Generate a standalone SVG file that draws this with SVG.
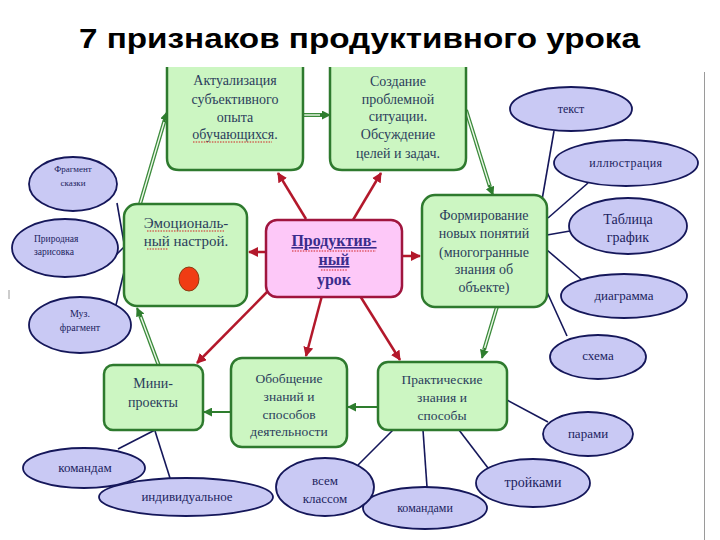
<svg xmlns="http://www.w3.org/2000/svg" width="720" height="540" viewBox="0 0 720 540">
<defs>
<marker id="ra" markerUnits="userSpaceOnUse" markerWidth="10" markerHeight="10" viewBox="0 0 10 10" refX="9" refY="5" orient="auto"><path d="M0,0 L10,5 L0,10 z" fill="#b3182b"/></marker>
<marker id="ga" markerUnits="userSpaceOnUse" markerWidth="9" markerHeight="9" viewBox="0 0 10 10" refX="9" refY="5" orient="auto"><path d="M0,0 L10,5 L0,10 z" fill="#2e7d2e"/></marker>
<style>
.gb{fill:#ccf6c2;stroke:#2e7a2e;stroke-width:2.5}
.el{fill:#c9c9f4;stroke:#15175a;stroke-width:1.8}
.bt{font-family:'Liberation Serif',serif;fill:#2b3d5c;text-anchor:middle}
.et{font-family:'Liberation Serif',serif;fill:#1c1e5e;text-anchor:middle}
.ct{font-family:'Liberation Serif',serif;font-weight:bold;fill:#3a2d8c;text-anchor:middle}
.red{stroke:#b3182b;stroke-width:2.5;fill:none;marker-end:url(#ra)}
.gs{stroke:#2e7d2e;stroke-width:2;fill:none;marker-end:url(#ga)}
.gd{stroke:#3a8a3a;stroke-width:4;fill:none}
.gdi{stroke:#eef8ea;stroke-width:1.4;fill:none}
.nl{stroke:#15175a;stroke-width:1.6;fill:none}
.sq{stroke:#d02020;stroke-width:1;stroke-dasharray:1.5 1.2;fill:none}
</style>
</defs>
<rect width="720" height="540" fill="#ffffff"/>
<line x1="704.5" y1="72" x2="704.5" y2="540" stroke="#9a9a9a" stroke-width="1"/>
<line x1="9" y1="290" x2="9" y2="299" stroke="#9a9a9a" stroke-width="1"/>
<text x="359.5" y="48" font-family="Liberation Sans, Arial, sans-serif" font-size="28" font-weight="bold" fill="#000" text-anchor="middle" textLength="561" lengthAdjust="spacingAndGlyphs">7 признаков продуктивного урока</text>

<g id="connectors">
<line class="red" x1="306" y1="219" x2="278" y2="173"/>
<line class="red" x1="353" y1="220" x2="381" y2="173"/>
<line class="red" x1="266" y1="252" x2="249" y2="252"/>
<line class="red" x1="402" y1="256" x2="420" y2="256"/>
<line class="red" x1="267" y1="292" x2="197" y2="363"/>
<line class="red" x1="324" y1="288" x2="306" y2="356"/>
<line class="red" x1="357" y1="291" x2="400" y2="360"/>
<g>
<path class="gd" d="M303,115 H324"/><path class="gdi" d="M303,115 H324"/>
<line class="gs" x1="320" y1="115" x2="330" y2="115"/>
</g>
<g>
<path class="gd" d="M140,204 L165,119"/><path class="gdi" d="M140,204 L165,119"/>
<line class="gs" x1="164" y1="122" x2="167" y2="112"/>
</g>
<g>
<path class="gd" d="M466,110 L490,187"/><path class="gdi" d="M466,110 L490,187"/>
<line class="gs" x1="489" y1="185" x2="493" y2="195"/>
</g>
<g>
<path class="gd" d="M499,300 L484,350"/><path class="gdi" d="M499,300 L484,350"/>
<line class="gs" x1="485" y1="348" x2="482" y2="358"/>
</g>
<g>
<path class="gd" d="M159,366 L140,315"/><path class="gdi" d="M159,366 L140,315"/>
<line class="gs" x1="141" y1="317" x2="137" y2="308"/>
</g>
<line class="gs" x1="231" y1="412" x2="204" y2="412"/>
<line class="gs" x1="378" y1="407" x2="348" y2="407"/>
<line class="nl" x1="117" y1="203" x2="124" y2="243"/>
<line class="nl" x1="115" y1="256" x2="124" y2="247"/>
<line class="nl" x1="116" y1="305" x2="124" y2="272"/>
<line class="nl" x1="554" y1="131" x2="542" y2="200"/>
<line class="nl" x1="588" y1="183" x2="548" y2="218"/>
<line class="nl" x1="570" y1="231" x2="547" y2="235"/>
<line class="nl" x1="547" y1="250" x2="582" y2="280"/>
<line class="nl" x1="547" y1="292" x2="567" y2="336"/>
<line class="nl" x1="155" y1="430" x2="118" y2="449"/>
<line class="nl" x1="155" y1="431" x2="170" y2="478"/>
<line class="nl" x1="393" y1="430" x2="358" y2="465"/>
<line class="nl" x1="423" y1="430" x2="427" y2="487"/>
<line class="nl" x1="459" y1="430" x2="488" y2="468"/>
<line class="nl" x1="507" y1="400" x2="548" y2="422"/>
</g>

<g id="box-actual">
<path class="gb" d="M167,67 V158 Q167,170 179,170 H291 Q303,170 303,158 V67"/>
<text class="bt" style="font-size:14px" x="235" y="85">Актуализация</text>
<text class="bt" style="font-size:14px" x="235" y="104">субъективного</text>
<text class="bt" style="font-size:14px" x="235" y="122">опыта</text>
<text class="bt" style="font-size:14px" x="235" y="139">обучающихся.</text>
<path class="sq" d="M193,142 H272"/>
</g>
<g id="box-sozdanie">
<path class="gb" d="M330,67 V158 Q330,170 342,170 H454 Q466,170 466,158 V67"/>
<text class="bt" style="font-size:14px" x="398" y="86">Создание</text>
<text class="bt" style="font-size:14px" x="398" y="104">проблемной</text>
<text class="bt" style="font-size:14px" x="398" y="121">ситуации.</text>
<text class="bt" style="font-size:14px" x="398" y="139">Обсуждение</text>
<text class="bt" style="font-size:14px" x="398" y="158">целей и задач.</text>
</g>
<g id="box-emo">
<rect class="gb" x="124" y="204" width="123" height="102" rx="13"/>
<text class="bt" style="font-size:15px" x="186" y="228">Эмоциональ-</text>
<text class="bt" style="font-size:15px" x="186" y="246">ный настрой.</text>
<path class="sq" d="M147,231 H224"/>
<path class="sq" d="M147,249 H168"/>
<ellipse cx="189" cy="279" rx="10" ry="12" fill="#f03c14" stroke="#8a3a10" stroke-width="1"/>
</g>
<g id="box-center">
<rect x="266" y="220" width="136" height="77" rx="11" fill="#fdc8f8" stroke="#a0153e" stroke-width="2.5"/>
<text class="ct" style="font-size:16px" x="334" y="246" text-decoration="underline">Продуктив-</text>
<text class="ct" style="font-size:16px" x="334" y="265" text-decoration="underline">ный</text>
<text class="ct" style="font-size:16px" x="334" y="285">урок</text>
<path class="sq" d="M292,251 H376"/>
<path class="sq" d="M321,270 H347"/>
</g>
<g id="box-form">
<rect class="gb" x="422" y="195" width="125" height="112" rx="13"/>
<text class="bt" style="font-size:14px" x="484" y="220">Формирование</text>
<text class="bt" style="font-size:14px" x="484" y="238">новых понятий</text>
<text class="bt" style="font-size:14px" x="484" y="257">(многогранные</text>
<text class="bt" style="font-size:14px" x="484" y="274">знания об</text>
<text class="bt" style="font-size:14px" x="484" y="292">объекте)</text>
</g>
<g id="box-mini">
<rect class="gb" x="104" y="365" width="99" height="65" rx="9"/>
<text class="bt" style="font-size:14px" x="153" y="388">Мини-</text>
<text class="bt" style="font-size:14px" x="153" y="407">проекты</text>
</g>
<g id="box-obob">
<rect class="gb" x="231" y="358" width="116" height="89" rx="11"/>
<text class="bt" style="font-size:13.5px" x="289" y="383">Обобщение</text>
<text class="bt" style="font-size:13.5px" x="289" y="401">знаний и</text>
<text class="bt" style="font-size:13.5px" x="289" y="419">способов</text>
<text class="bt" style="font-size:13.5px" x="289" y="436">деятельности</text>
</g>
<g id="box-prakt">
<rect class="gb" x="378" y="362" width="129" height="68" rx="10"/>
<text class="bt" style="font-size:13.5px" x="442" y="384">Практические</text>
<text class="bt" style="font-size:13.5px" x="442" y="402">знания и</text>
<text class="bt" style="font-size:13.5px" x="442" y="420">способы</text>
</g>

<g id="el-skazka"><ellipse class="el" cx="73" cy="184" rx="44" ry="27"/>
<text class="et" style="font-size:9px" x="73" y="172">Фрагмент</text><text class="et" style="font-size:9px" x="73" y="186">сказки</text></g>
<g id="el-prirod"><ellipse class="el" cx="65" cy="248" rx="53" ry="29"/>
<text class="et" style="font-size:9.5px;text-anchor:start" x="34" y="242">Природная</text><text class="et" style="font-size:9.5px;text-anchor:start" x="34" y="255">зарисовка</text></g>
<g id="el-muz"><ellipse class="el" cx="80" cy="325" rx="51" ry="28"/>
<text class="et" style="font-size:10px" x="80" y="317">Муз.</text><text class="et" style="font-size:10px" x="80" y="331">фрагмент</text></g>
<g id="el-tekst"><ellipse class="el" cx="571" cy="109" rx="61" ry="22"/>
<text class="et" style="font-size:12px" x="571" y="113">текст</text></g>
<g id="el-illus"><ellipse class="el" cx="626" cy="163" rx="72" ry="23"/>
<text class="et" style="font-size:12px;letter-spacing:0.5px" x="626" y="167">иллюстрация</text></g>
<g id="el-tabl"><ellipse class="el" cx="628" cy="226" rx="59" ry="28"/>
<text class="et" style="font-size:14px" x="628" y="224">Таблица</text><text class="et" style="font-size:14px" x="628" y="242">график</text></g>
<g id="el-diag"><ellipse class="el" cx="624" cy="296" rx="63" ry="22"/>
<text class="et" style="font-size:13px" x="624" y="300">диаграмма</text></g>
<g id="el-shema"><ellipse class="el" cx="598" cy="357" rx="48" ry="22"/>
<text class="et" style="font-size:13px" x="598" y="360">схема</text></g>
<g id="el-parami"><ellipse class="el" cx="588" cy="434" rx="45" ry="22"/>
<text class="et" style="font-size:13px" x="588" y="438">парами</text></g>
<g id="el-troik"><ellipse class="el" cx="533" cy="483" rx="57" ry="24"/>
<text class="et" style="font-size:14px" x="533" y="487">тройками</text></g>
<g id="el-komandami"><ellipse class="el" cx="425" cy="508" rx="62" ry="21"/>
<text class="et" style="font-size:12px" x="425" y="512">командами</text></g>
<g id="el-vsem"><ellipse class="el" cx="325" cy="487" rx="49" ry="29"/>
<text class="et" style="font-size:13px" x="325" y="485">всем</text><text class="et" style="font-size:13px" x="325" y="503">классом</text></g>
<g id="el-komandam"><ellipse class="el" cx="84" cy="468" rx="61" ry="20"/>
<text class="et" style="font-size:13px" x="85" y="472">командам</text></g>
<g id="el-indiv"><ellipse class="el" cx="186" cy="497" rx="87" ry="19"/>
<text class="et" style="font-size:13px" x="187" y="501">индивидуальное</text></g>
</svg>
